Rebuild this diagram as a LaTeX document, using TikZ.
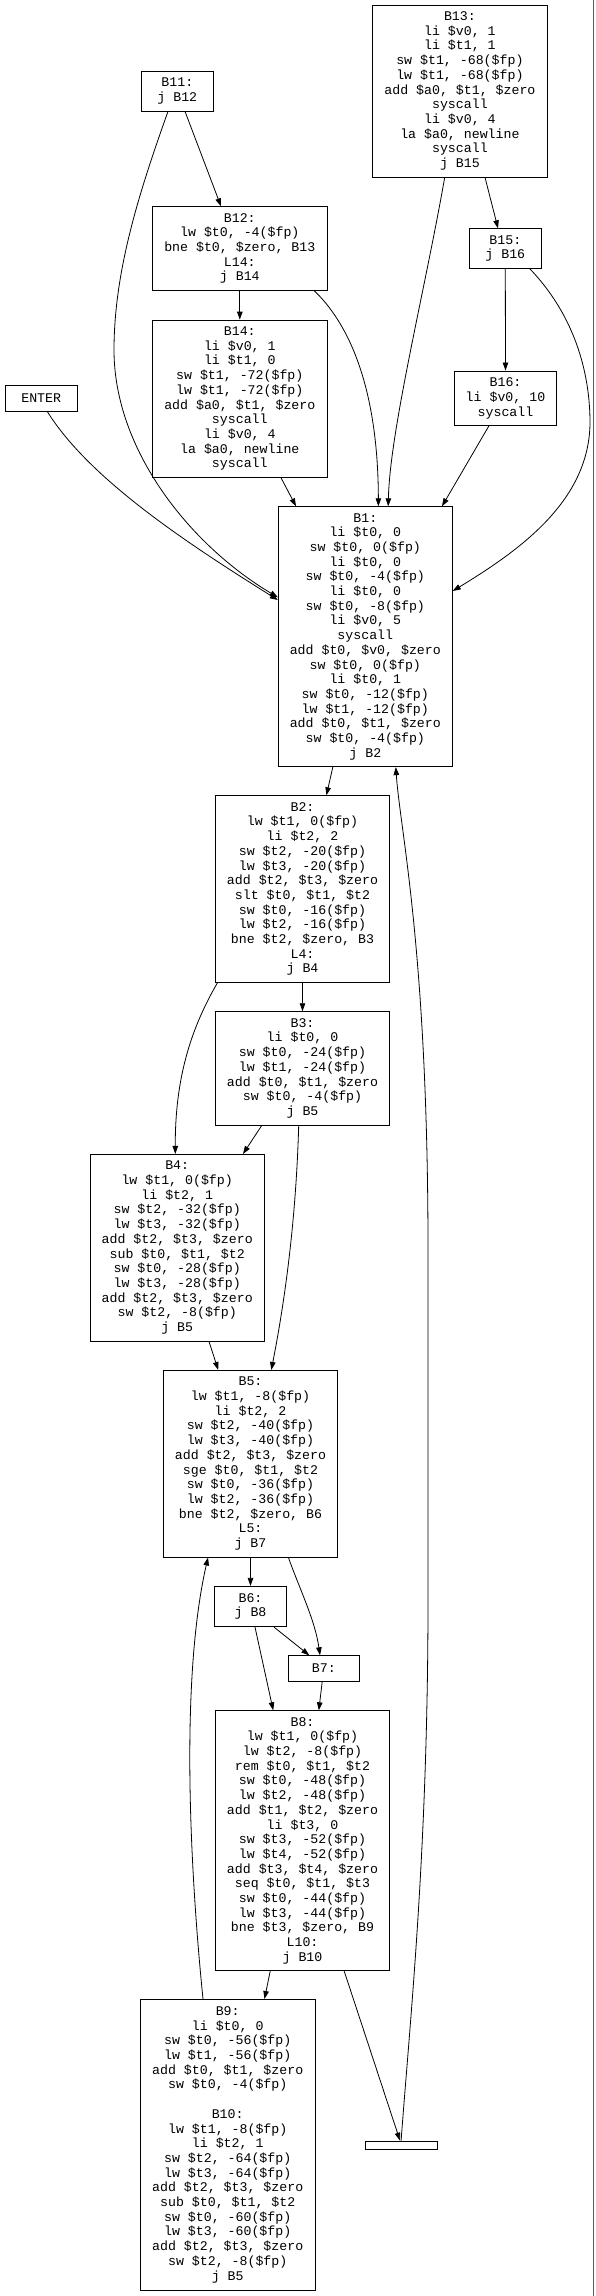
\documentclass[tikz,border=0pt]{standalone}
\usepackage{fontspec}
\newfontfamily\cfgmono{Liberation Mono}
\usetikzlibrary{arrows.meta,calc}
\begin{document}
\begin{tikzpicture}[x=1pt,y=-1pt,
  blk/.style={draw=black, line width=0.8pt, inner sep=0pt, align=center,
    font=\cfgmono\fontsize{13.25pt}{14.7pt}\selectfont, fill=white},
  wideblk/.style={blk, minimum width=174.6pt},
  smallblk/.style={blk, minimum width=72pt},
  cfgedge/.style={line width=0.8pt, -{Triangle[length=8pt,width=5.5pt]}}]
\useasboundingbox (0,0) rectangle (595,2296);
\fill[white] (0,0) rectangle (595,2296);
\draw[black!65, line width=1.3pt] (593.7,0) -- (593.7,2296);

% nodes
\node[wideblk, minimum height=172pt] (b13) at (459.9,91) {B13:\\li \$v0, 1\\li \$t1, 1\\sw \$t1, -68(\$fp)\\lw \$t1, -68(\$fp)\\add \$a0, \$t1, \$zero\\syscall\\li \$v0, 4\\la \$a0, newline\\syscall\\j B15};
\node[smallblk, minimum height=40pt] (b11) at (177.3,91) {B11:\\j B12};
\node[wideblk, minimum height=83.6pt] (b12) at (239.8,248.5) {B12:\\lw \$t0, -4(\$fp)\\bne \$t0, \$zero, B13\\L14:\\j B14};
\node[smallblk, minimum width=71.7pt, minimum height=39.6pt] (b15) at (505.3,248.5) {B15:\\j B16};
\node[wideblk, minimum height=157.3pt] (b14) at (239.8,398.7) {B14:\\li \$v0, 1\\li \$t1, 0\\sw \$t1, -72(\$fp)\\lw \$t1, -72(\$fp)\\add \$a0, \$t1, \$zero\\syscall\\li \$v0, 4\\la \$a0, newline\\syscall};
\node[blk, minimum width=102.5pt, minimum height=54.7pt] (b16) at (505.5,398.3) {B16:\\li \$v0, 10\\syscall};
\node[blk, minimum width=72.5pt, minimum height=25.6pt] (enter) at (41.2,398.5) {ENTER};
\node[wideblk, minimum width=174.1pt, minimum height=260pt] (b1) at (365.3,636.7) {B1:\\li \$t0, 0\\sw \$t0, 0(\$fp)\\li \$t0, 0\\sw \$t0, -4(\$fp)\\li \$t0, 0\\sw \$t0, -8(\$fp)\\li \$v0, 5\\syscall\\add \$t0, \$v0, \$zero\\sw \$t0, 0(\$fp)\\li \$t0, 1\\sw \$t0, -12(\$fp)\\lw \$t1, -12(\$fp)\\add \$t0, \$t1, \$zero\\sw \$t0, -4(\$fp)\\j B2};
\node[wideblk, minimum height=186.6pt] (b2) at (302.5,889) {B2:\\lw \$t1, 0(\$fp)\\li \$t2, 2\\sw \$t2, -20(\$fp)\\lw \$t3, -20(\$fp)\\add \$t2, \$t3, \$zero\\slt \$t0, \$t1, \$t2\\sw \$t0, -16(\$fp)\\lw \$t2, -16(\$fp)\\bne \$t2, \$zero, B3\\L4:\\j B4};
\node[wideblk, minimum height=113.3pt] (b3) at (302.5,1068.3) {B3:\\li \$t0, 0\\sw \$t0, -24(\$fp)\\lw \$t1, -24(\$fp)\\add \$t0, \$t1, \$zero\\sw \$t0, -4(\$fp)\\j B5};
\node[wideblk, minimum height=186.7pt] (b4) at (177.2,1247.7) {B4:\\lw \$t1, 0(\$fp)\\li \$t2, 1\\sw \$t2, -32(\$fp)\\lw \$t3, -32(\$fp)\\add \$t2, \$t3, \$zero\\sub \$t0, \$t1, \$t2\\sw \$t0, -28(\$fp)\\lw \$t3, -28(\$fp)\\add \$t2, \$t3, \$zero\\sw \$t2, -8(\$fp)\\j B5};
\node[wideblk, minimum height=186.7pt] (b5) at (250.5,1463.7) {B5:\\lw \$t1, -8(\$fp)\\li \$t2, 2\\sw \$t2, -40(\$fp)\\lw \$t3, -40(\$fp)\\add \$t2, \$t3, \$zero\\sge \$t0, \$t1, \$t2\\sw \$t0, -36(\$fp)\\lw \$t2, -36(\$fp)\\bne \$t2, \$zero, B6\\L5:\\j B7};
\node[smallblk, minimum height=40.4pt] (b6) at (250.5,1606.5) {B6:\\j B8};
\node[smallblk, minimum width=71.7pt, minimum height=25.6pt] (b7) at (323.9,1668.5) {B7:};
\node[wideblk, minimum height=260pt] (b8) at (302.5,1840.7) {B8:\\lw \$t1, 0(\$fp)\\lw \$t2, -8(\$fp)\\rem \$t0, \$t1, \$t2\\sw \$t0, -48(\$fp)\\lw \$t2, -48(\$fp)\\add \$t1, \$t2, \$zero\\li \$t3, 0\\sw \$t3, -52(\$fp)\\lw \$t4, -52(\$fp)\\add \$t3, \$t4, \$zero\\seq \$t0, \$t1, \$t3\\sw \$t0, -44(\$fp)\\lw \$t3, -44(\$fp)\\bne \$t3, \$zero, B9\\L10:\\j B10};
\node[wideblk, minimum height=290.7pt] (b9) at (227.7,2144.7) {B9:\\li \$t0, 0\\sw \$t0, -56(\$fp)\\lw \$t1, -56(\$fp)\\add \$t0, \$t1, \$zero\\sw \$t0, -4(\$fp)\\[14.7pt]B10:\\lw \$t1, -8(\$fp)\\li \$t2, 1\\sw \$t2, -64(\$fp)\\lw \$t3, -64(\$fp)\\add \$t2, \$t3, \$zero\\sub \$t0, \$t1, \$t2\\sw \$t0, -60(\$fp)\\lw \$t3, -60(\$fp)\\add \$t2, \$t3, \$zero\\sw \$t2, -8(\$fp)\\j B5};
\node[blk, minimum width=72.2pt, minimum height=8pt] (exit) at (401.1,2145) {};

% edges
\draw[cfgedge] ($(b11.south)+(7.7,0)$) -- ($(b12.north)+(-18.8,0)$);
\draw[cfgedge] ($(b11.south)+(-9.3,0)$) .. controls (140,190) and (114,270) .. (114,350) .. controls (114,450) and (190,545) .. ($(b1.west)+(0,-39.4)$);
\draw[cfgedge] ($(enter.south)+(6.2,0)$) .. controls (90,480) and (190,545) .. ($(b1.west)+(0,-36.7)$);
\draw[cfgedge] (b12.south) -- (b14.north);
\draw[cfgedge] ($(b12.south)+(74.4,0)$) .. controls (345,320) and (378,380) .. ($(b1.north)+(13.1,0)$);
\draw[cfgedge] ($(b13.south)+(-15.2,0)$) .. controls (425,290) and (390,430) .. ($(b1.north)+(22.9,0)$);
\draw[cfgedge] ($(b13.south)+(25.1,0)$) -- ($(b15.north)+(-7.3,0)$);
\draw[cfgedge] (b15.south) -- (b16.north);
\draw[cfgedge] ($(b15.south)+(24.4,0)$) .. controls (560,300) and (589,350) .. (590,420) .. controls (591,500) and (520,550) .. ($(b1.east)+(0,-45.7)$);
\draw[cfgedge] ($(b16.south)+(-16.7,0)$) -- ($(b1.north)+(76.7,0)$);
\draw[cfgedge] ($(b14.south)+(41.2,0)$) -- ($(b1.north)+(-69.3,0)$);
\draw[cfgedge] ($(b1.south)+(-32.5,0)$) -- ($(b2.north)+(23.9,0)$);
\draw[cfgedge] (exit.north) .. controls (410,2020) and (428,1850) .. (428,1600) -- (428,1250) .. controls (428,950) and (400,830) .. ($(b1.south)+(30.5,0)$);
\draw[cfgedge] (b2.south) -- (b3.north);
\draw[cfgedge] ($(b2.south)+(-85,0)$) .. controls (190,1030) and (175,1080) .. ($(b4.north)+(-1.9,0)$);
\draw[cfgedge] ($(b3.south)+(-40.7,0)$) -- ($(b4.north)+(65.8,0)$);
\draw[cfgedge] ($(b3.south)+(-3.8,0)$) .. controls (296,1220) and (285,1300) .. ($(b5.north)+(20.8,0)$);
\draw[cfgedge] ($(b4.south)+(31.8,0)$) -- ($(b5.north)+(-32.3,0)$);
\draw[cfgedge] (b5.south) -- (b6.north);
\draw[cfgedge] ($(b5.south)+(37.9,0)$) .. controls (300,1590) and (315,1620) .. ($(b7.north)+(-3.9,0)$);
\draw[cfgedge] ($(b6.south)+(23.5,0)$) -- ($(b7.north)+(-14.6,0)$);
\draw[cfgedge] ($(b6.south)+(4.5,0)$) -- ($(b8.north)+(-29.3,0)$);
\draw[cfgedge] ($(b7.south)+(-1.7,0)$) -- ($(b8.north)+(16.3,0)$);
\draw[cfgedge] ($(b8.south)+(-32.3,0)$) -- ($(b9.north)+(36.8,0)$);
\draw[cfgedge] ($(b8.south)+(41.7,0)$) -- ($(exit.north)+(-1.1,0)$);
\draw[cfgedge] ($(b9.north)+(-24.7,0)$) .. controls (190,1870) and (180,1680) .. ($(b5.south)+(-42.5,0)$);
\end{tikzpicture}
\end{document}
